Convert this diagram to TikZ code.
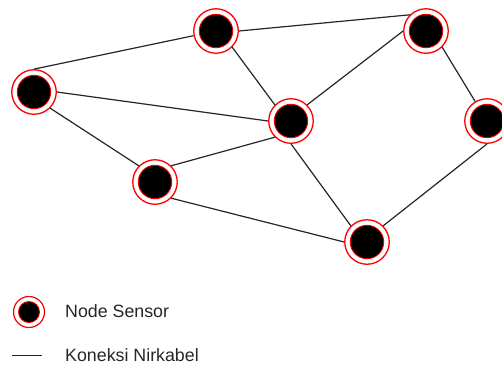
\documentclass[tikz,border=0pt]{standalone}
\usepackage{fontspec}
\setmainfont{Liberation Sans}
\begin{document}
\begin{tikzpicture}[x=1pt,y=-1pt,
  sensor/.style={circle,draw=red,line width=1.3pt,fill=white,minimum size=44.5pt,inner sep=0pt,
    path picture={\fill[red] (path picture bounding box.center) circle (17.2pt);
                  \fill[black] (path picture bounding box.center) circle (16.2pt);}},
  sensorsmall/.style={circle,draw=red,line width=1.2pt,fill=white,minimum size=31pt,inner sep=0pt,
    path picture={\fill[red] (path picture bounding box.center) circle (11pt);
                  \fill[black] (path picture bounding box.center) circle (10pt);}},
  link/.style={draw=black!85,line width=1.2pt},
  lbl/.style={anchor=west,font=\fontsize{17.8}{20}\selectfont,text=black!85,inner sep=0pt}]
\useasboundingbox (0,0) rectangle (502,365);
\fill[white] (0,0) rectangle (502,365);
\node[sensor] (A) at (34,92) {};
\node[sensor] (B) at (216,31) {};
\node[sensor] (C) at (426,31) {};
\node[sensor] (D) at (291,121) {};
\node[sensor] (E) at (487,121) {};
\node[sensor] (F) at (155,182) {};
\node[sensor] (G) at (367,242) {};
\draw[link] (A.north) -- (B);
\draw[link] (B.east) -- (C.north west);
\draw[link] (A.east) -- (D.west);
\draw[link] (B.south east) -- (D.north west);
\draw[link] (D.north east) -- (C.west);
\draw[link] (C.south east) -- (E);
\draw[link] (A.south east) -- (F.north west);
\draw[link] (F.north east) -- (D.south west);
\draw[link] (D.south) -- (G.north west);
\draw[link] (F.south east) -- (G.west);
\draw[link] (E.south) -- (G.north east);
\node[sensorsmall] (LN) at (29,312) {};
\node[lbl] (LT1) at (65,311) {Node Sensor};
\coordinate (L1) at (12,355);
\coordinate (L2) at (42,355);
\draw[black!85,line width=1pt] (L1) -- (L2);
\node[lbl] (LT2) at (65,355) {Koneksi Nirkabel};
\end{tikzpicture}
\end{document}
